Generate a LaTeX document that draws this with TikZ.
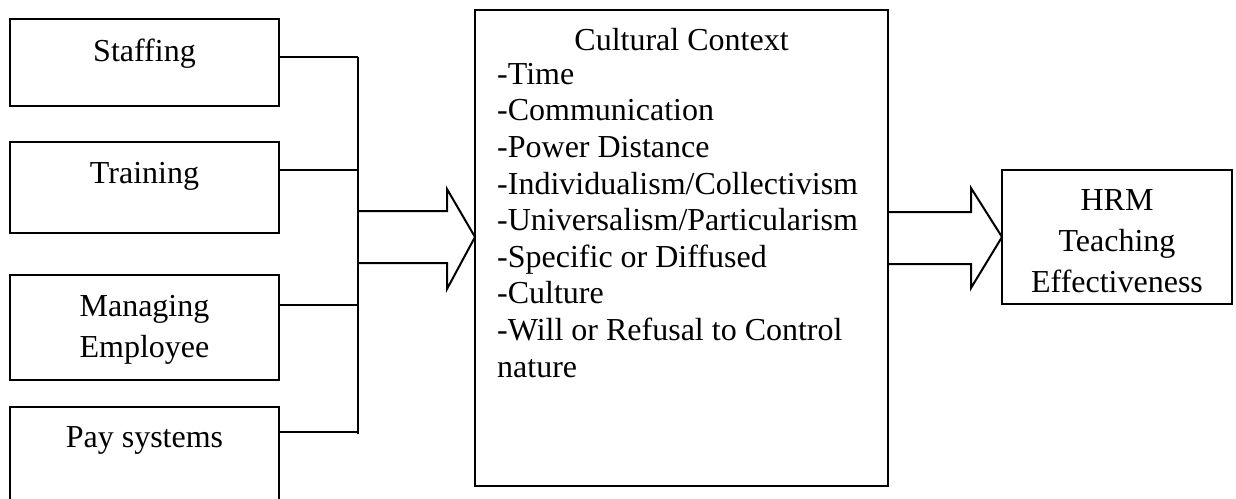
\documentclass[tikz,border=0pt]{standalone}
\usepackage{fontspec}
\setmainfont{Liberation Serif}
\begin{document}
\begin{tikzpicture}[x=1pt,y=-1pt,
  box/.style={draw=black,line width=2pt,inner sep=0pt,outer sep=0pt,fill=none},
  lbl/.style={inner sep=0pt,anchor=base,align=center,font=\fontsize{32pt}{41pt}\selectfont},
  listtxt/.style={inner sep=0pt,anchor=base west,align=left,font=\fontsize{32pt}{36.6pt}\selectfont},
  conn/.style={draw=black,line width=2pt},
  bigarrow/.style={draw=black,line width=2pt,line join=miter}]
\useasboundingbox (0,0) rectangle (1236,498);
\clip (0,0) rectangle (1236,498);
\fill[white] (0,0) rectangle (1236,498);
% left boxes
\node[box,minimum width=269pt,minimum height=87pt] (staff) at (144.5,62.5) {};
\node[box,minimum width=269pt,minimum height=91pt] (train) at (144.5,187.5) {};
\node[box,minimum width=269pt,minimum height=105pt] (manage) at (144.5,327.5) {};
\node[box,minimum width=269pt,minimum height=120pt] (pay) at (144.5,467) {};
\node[lbl] (staffT) at (144.5,61) {Staffing};
\node[lbl] (trainT) at (144.5,183) {Training};
\node[lbl] (manageT) at (144.5,357) {Managing\\Employee};
\node[lbl] (payT) at (144.5,447) {Pay systems};
% middle box
\node[box,minimum width=413pt,minimum height=476pt] (ctx) at (681.5,248) {};
\node[lbl] (ctxT) at (681.5,50) {Cultural Context};
\node[listtxt] (ctxL) at (497,377) {-Time\\-Communication\\-Power Distance\\-Individualism/Collectivism\\-Universalism/Particularism\\-Specific or Diffused\\-Culture\\-Will or Refusal to Control\\nature};
% right box
\node[box,minimum width=230pt,minimum height=134pt] (hrm) at (1117,237) {};
\node[lbl] (hrmT) at (1117,292) {HRM\\Teaching\\Effectiveness};
% bus
\coordinate (b1) at (358,57);
\coordinate (b2) at (358,170);
\coordinate (b3) at (358,305);
\coordinate (b4) at (358,432);
\coordinate (busBot) at (358,434);
\draw[conn] (staff.east |- b1) -- (b1);
\draw[conn] (train.east |- b2) -- (b2);
\draw[conn] (manage.east |- b3) -- (b3);
\draw[conn] (pay.east |- b4) -- (b4);
\draw[conn] (b1) -- (busBot);
% block arrows
\draw[bigarrow] (358,211) -- (447,211) -- (447,189) -- (ctx.west |- 0,237) -- (447,289) -- (447,263) -- (358,263);
\draw[bigarrow] (ctx.east |- 0,212) -- (971,212) -- (971,188) -- (hrm.west) -- (971,288) -- (971,264) -- (ctx.east |- 0,264);
\end{tikzpicture}
\end{document}
